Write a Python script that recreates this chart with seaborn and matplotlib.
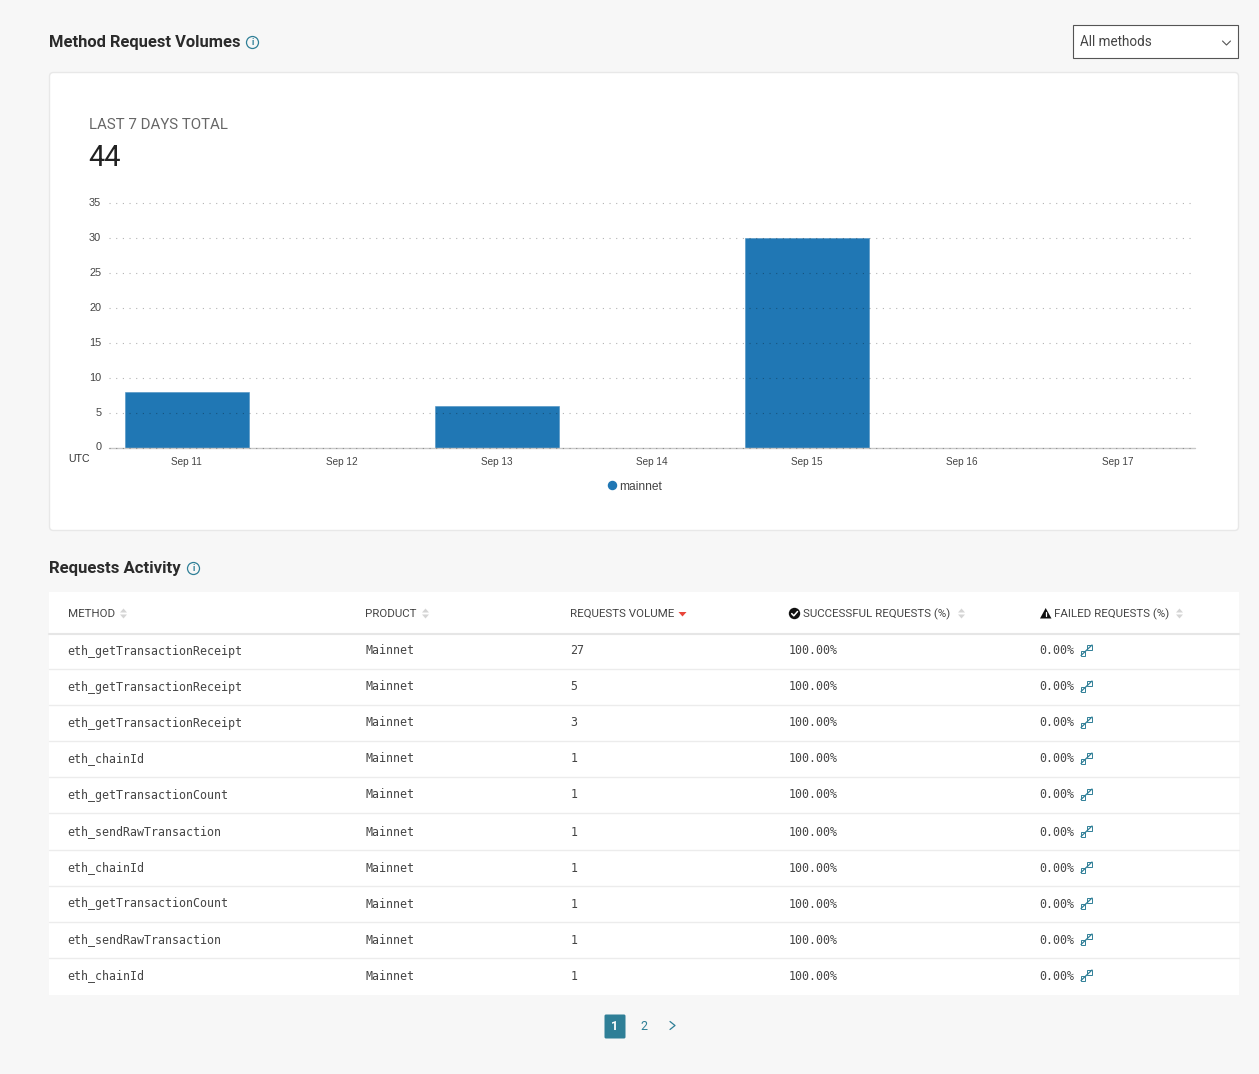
#! /usr/bin/env python3

import matplotlib
matplotlib.use('Agg')

import matplotlib.pyplot as plt
import pandas as pd
import seaborn as sns
from matplotlib.lines import Line2D
from matplotlib.patches import Circle, FancyBboxPatch, Polygon, Rectangle
from matplotlib.transforms import ScaledTranslation

days = ['Sep 11', 'Sep 12', 'Sep 13', 'Sep 14', 'Sep 15', 'Sep 16', 'Sep 17']
volumes = [8, 0, 6, 0, 30, 0, 0]
y_ticks = [0, 5, 10, 15, 20, 25, 30, 35]

methods = [
    'eth_getTransactionReceipt', 'eth_getTransactionReceipt',
    'eth_getTransactionReceipt', 'eth_chainId', 'eth_getTransactionCount',
    'eth_sendRawTransaction', 'eth_chainId', 'eth_getTransactionCount',
    'eth_sendRawTransaction', 'eth_chainId',
]
products = ['Mainnet'] * 10
request_counts = [27, 5, 3, 1, 1, 1, 1, 1, 1, 1]
success_rates = ['100.00%'] * 10
failed_rates = ['0.00%'] * 10

BG = '#f7f7f7'
BLUE = '#2077b4'
TEAL = '#2f7f97'
DARK = '#2b2b2b'
MONO = 'DejaVu Sans Mono'
SANS = 'Roboto'

W, H = 1259, 1074
PX = 0.72  # font px -> pt at dpi 100

sns.set_theme(style='white')
plt.rcParams['font.family'] = [SANS, 'DejaVu Sans']

fig = plt.figure(figsize=(W / 100, H / 100), dpi=100, facecolor=BG)

# page furniture lives on a full size axes in pixel coordinates
page = fig.add_axes([0, 0, 1, 1], zorder=0)
page.set_xlim(0, W)
page.set_ylim(H, 0)
page.axis('off')


def txt(x, y, s, size, color=DARK, **kw):
    kw.setdefault('va', 'center')
    page.text(x, y, s, fontsize=size * PX, color=color, **kw)


def info_icon(x, y):
    page.add_patch(Circle((x, y), 6, fc='none', ec=TEAL, lw=0.9))
    txt(x, y + 0.3, 'i', 9, color=TEAL, ha='center', fontweight='bold')


def sort_icon(x, y, down='#d5d5d5'):
    page.add_patch(Polygon([(x - 3.5, y - 1), (x + 3.5, y - 1), (x, y - 5)], fc='#d5d5d5', ec='none'))
    page.add_patch(Polygon([(x - 3.5, y + 1), (x + 3.5, y + 1), (x, y + 5)], fc=down, ec='none'))


def expand_icon(x, y):
    page.add_patch(Rectangle((x + 5.5, y - 5.5), 4.5, 4.5, fc='white', ec=TEAL, lw=0.7))
    page.add_patch(Rectangle((x - 1, y + 0.5), 4.5, 4.5, fc='white', ec=TEAL, lw=0.7))
    page.plot([x - 1, x + 10], [y + 5, y - 5.5], color=TEAL, lw=0.9)


def head(x, s):
    txt(x, 617, s, 11.5, color='#444444', va='baseline')


# headings and dropdown
txt(49, 42.5, 'Method Request Volumes', 16.5, fontweight='bold')
info_icon(252.5, 42.5)
page.add_patch(Rectangle((1073.5, 25), 165, 33, fc='white', ec='#555555', lw=0.8))
txt(1080, 42, 'All methods', 13.5, color='#444444')
page.plot([1222.5, 1226.5, 1230.5], [41, 45, 41], color='#555555', lw=0.8)

# chart card
page.add_patch(FancyBboxPatch((52.5, 75.5), 1183, 452, boxstyle='round,pad=3,rounding_size=4',
                              fc='white', ec='#e8e8e8', lw=1))
txt(89, 125, 'LAST 7 DAYS TOTAL', 15, color='#666666')
txt(88, 157.5, '44', 29, color='#222222')
txt(68.5, 458.5, 'UTC', 10.5, color='#333333', family='Liberation Sans')

txt(49, 568.5, 'Requests Activity', 16.7, fontweight='bold')
info_icon(193.5, 568.5)

# table
page.add_patch(Rectangle((49, 592), 1190, 402.5, fc='white', ec='none'))
page.plot([49, 1239], [633.5, 633.5], color='#e6e6e6', lw=1.5)
row_y = [651, 687, 723, 759, 795, 832, 868, 904, 940, 976]
col_x = [67.5, 365.5, 570.5, 789, 1039.5]

head(68, 'METHOD')
sort_icon(123.5, 613.5)
head(col_x[1], 'PRODUCT')
sort_icon(425.5, 613.5)
head(col_x[2], 'REQUESTS VOLUME')
page.add_patch(Polygon([(678.5, 612), (686.5, 612), (682.5, 616.5)], fc='#e8463a', ec='none'))
page.add_patch(Circle((794.5, 613.5), 5.7, fc='#111111', ec='none'))
page.plot([791.7, 793.8, 797.5], [613.6, 615.8, 611.5], color='white', lw=1.1)
head(803, 'SUCCESSFUL REQUESTS (%)')
sort_icon(961.5, 613.5)
page.add_patch(Polygon([(1040, 618.5), (1051.5, 618.5), (1045.7, 608)], fc='#111111', ec='none'))
page.plot([1045.7, 1045.7], [612, 615.5], color='white', lw=0.9)
head(1054, 'FAILED REQUESTS (%)')
sort_icon(1179.5, 613.5)

for i, y in enumerate(row_y):
    base_y = y + 3.5
    cells = [methods[i], products[i], str(request_counts[i]), success_rates[i], failed_rates[i]]
    for x, cell in zip(col_x, cells):
        txt(x, base_y, cell, 11.6, color='#444444', family=MONO, va='baseline')
    expand_icon(1082, y - 0.5)
    if i < len(row_y) - 1:
        page.plot([49, 1239], [y + 18, y + 18], color='#ececec', lw=1)

# pager
page.add_patch(FancyBboxPatch((605, 1015), 20, 23, boxstyle='round,pad=0.5,rounding_size=1.5', fc=TEAL, ec='none'))
txt(615, 1026, '1', 12.5, color='white', ha='center', fontweight='bold')
txt(644, 1026, '2', 12.5, color=TEAL, ha='center')
page.plot([670, 675, 670], [1021.5, 1025.5, 1029.5], color=TEAL, lw=0.9)

# the bar chart itself
left, right, top, base = 109, 1195, 203, 447.5
ax = fig.add_axes([left / W, (H - base) / H, (right - left) / W, (base - top) / H], zorder=1)
ax.patch.set_alpha(0)

data = pd.DataFrame({'day': days, 'volume': volumes})
sns.barplot(data=data, x='day', y='volume', color=BLUE, saturation=1, width=0.8, ax=ax, zorder=2,
            edgecolor='#4a90c0', linewidth=0.4)

ax.set_ylim(0, 35)
ax.set_yticks(y_ticks)
ax.set_xlabel('')
ax.set_ylabel('')
sns.despine(ax=ax, left=True, bottom=True)
ax.tick_params(axis='x', length=0, pad=6.5, labelsize=10 * PX, labelcolor='#444444')
ax.tick_params(axis='y', length=0, pad=5.5, labelsize=11 * PX, labelcolor='#444444')
nudge = ScaledTranslation(0, 1 / 100, fig.dpi_scale_trans)
for label in ax.get_xticklabels() + ax.get_yticklabels():
    label.set_family('Liberation Sans')
for label in ax.get_yticklabels():
    label.set_transform(label.get_transform() + nudge)

ax.axhline(0, color='#c8c8c8', lw=1, zorder=3, clip_on=False)
for tick in y_ticks:
    ax.axhline(tick, color='black', alpha=0.3, lw=0.8, ls=(0, (1, 5)), zorder=4, clip_on=False)

fig.legend(handles=[Line2D([], [], marker='o', ls='', color=BLUE, markersize=5.8, label='mainnet')],
           loc='center', bbox_to_anchor=(633.5 / W, (H - 486.5) / H), frameon=False,
           labelcolor='#444444', handletextpad=-0.02, handlelength=1.2,
           prop={'family': 'Liberation Sans', 'size': 12 * PX})

fig.savefig('out.png', dpi=100, facecolor=BG)
